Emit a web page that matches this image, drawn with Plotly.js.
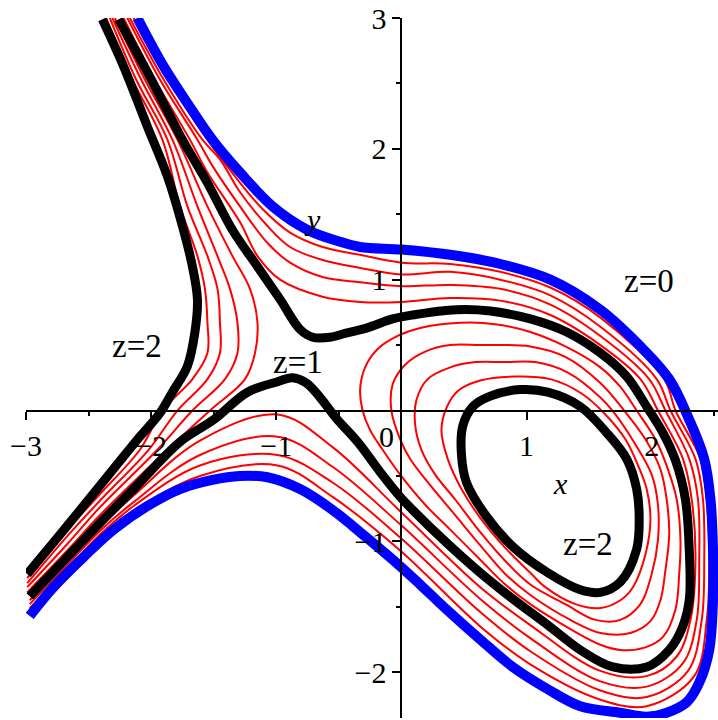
<!DOCTYPE html>
<html>
<head>
<meta charset="utf-8">
<script src="https://cdn.plot.ly/plotly-3.0.1.min.js"></script>
<style>
  html, body { margin: 0; padding: 0; background: #fff; }
  #chart { width: 718px; height: 720px; }
</style>
</head>
<body>
<div id="chart"></div>
<script>
// Level curves (data units)

// z = 0 (blue)
const blueX = [-2.11,-1.90,-1.69,-1.51,-1.29,-1.03,-0.75,-0.49,-0.33,0.00,0.39,0.79,1.19,1.59,1.90,2.14,2.30,2.42,2.47,2.49,2.49,2.46,2.38,2.28,2.12,1.96,1.75,1.43,1.17,0.89,0.63,0.36,0.15,-0.01,-0.28,-0.55,-0.81,-1.07,-1.29,-1.51,-1.77,-2.03,-2.30,-2.54,-2.78,-2.97];
const blueY = [3.00,2.63,2.32,2.07,1.82,1.56,1.38,1.29,1.25,1.23,1.19,1.12,1.00,0.77,0.50,0.24,-0.07,-0.37,-0.68,-1.06,-1.45,-1.83,-2.08,-2.23,-2.31,-2.34,-2.31,-2.26,-2.13,-1.96,-1.75,-1.52,-1.33,-1.19,-0.97,-0.76,-0.60,-0.51,-0.50,-0.53,-0.60,-0.73,-0.91,-1.12,-1.35,-1.57];

// z = 1 (black)
const oneX = [-2.26,-2.01,-1.75,-1.55,-1.35,-1.15,-0.97,-0.81,-0.71,-0.57,-0.45,-0.28,-0.07,0.09,0.44,0.71,1.03,1.32,1.59,1.80,1.96,2.09,2.19,2.27,2.30,2.30,2.24,2.14,1.96,1.69,1.43,1.17,0.89,0.63,0.36,0.09,-0.01,-0.17,-0.35,-0.52,-0.65,-0.76,-0.87,-0.99,-1.23,-1.50,-1.77,-2.14,-2.41,-2.67,-2.97];
const oneY = [2.99,2.55,2.07,1.74,1.38,1.10,0.85,0.62,0.56,0.56,0.59,0.63,0.70,0.73,0.77,0.76,0.70,0.60,0.44,0.26,0.03,-0.17,-0.38,-0.68,-1.06,-1.45,-1.67,-1.83,-1.96,-1.96,-1.83,-1.64,-1.44,-1.24,-1.01,-0.76,-0.66,-0.47,-0.24,-0.06,0.10,0.21,0.25,0.22,0.14,-0.07,-0.24,-0.60,-0.86,-1.12,-1.42];

// z = 2 (black): oval and left branch
const twoOvalX = [0.95,1.17,1.43,1.64,1.80,1.88,1.90,1.88,1.75,1.59,1.43,1.17,0.89,0.68,0.52,0.48,0.49,0.57,0.71,0.95];
const twoOvalY = [0.16,0.14,0.03,-0.17,-0.37,-0.60,-0.81,-1.06,-1.31,-1.39,-1.37,-1.24,-1.04,-0.81,-0.55,-0.34,-0.12,0.03,0.11,0.16];
const twoLeftX = [-2.39,-2.22,-2.03,-1.87,-1.75,-1.67,-1.63,-1.65,-1.71,-1.83,-1.93,-2.09,-2.27,-2.49,-2.73,-2.99];
const twoLeftY = [2.99,2.63,2.17,1.79,1.41,1.10,0.85,0.60,0.34,0.14,-0.02,-0.20,-0.41,-0.67,-0.95,-1.25];

// red levels between 0 and 1
const r02X = [-2.14,-1.86,-1.55,-1.33,-1.11,-0.89,-0.63,-0.33,0.00,0.39,0.79,1.19,1.59,2.10,2.19,2.39,2.44,2.46,2.44,2.34,1.96,1.59,1.03,0.63,-0.01,-0.55,-0.99,-1.61,-2.14,-2.41,-2.67,-2.97];
const r02Y = [3.00,2.53,2.07,1.79,1.54,1.36,1.25,1.19,1.13,1.12,1.06,0.94,0.71,0.24,0.00,-0.37,-0.68,-1.14,-1.60,-2.03,-2.26,-2.21,-1.94,-1.65,-1.07,-0.66,-0.42,-0.50,-0.77,-0.97,-1.23,-1.54];
const r04X = [-2.17,-1.90,-1.59,-1.45,-1.29,-1.07,-0.89,-0.63,-0.33,0.00,0.39,0.79,1.19,1.59,2.04,2.15,2.35,2.41,2.42,2.40,2.29,1.96,1.59,1.03,0.63,-0.01,-0.55,-0.99,-1.61,-2.14,-2.41,-2.67,-2.97];
const r04Y = [3.00,2.53,2.07,1.92,1.67,1.41,1.25,1.15,1.09,1.04,1.06,1.00,0.88,0.64,0.24,0.00,-0.37,-0.68,-1.14,-1.60,-1.99,-2.19,-2.14,-1.84,-1.54,-0.97,-0.55,-0.34,-0.42,-0.73,-0.95,-1.21,-1.51];
const r06X = [-2.19,-1.93,-1.63,-1.51,-1.29,-1.07,-0.89,-0.63,-0.33,0.00,0.39,0.79,1.19,1.59,1.98,2.11,2.30,2.37,2.38,2.36,2.25,1.96,1.59,1.03,0.63,-0.01,-0.55,-0.99,-1.61,-2.14,-2.41,-2.67,-2.97];
const r06Y = [3.00,2.53,2.07,1.87,1.56,1.28,1.13,1.02,0.98,0.95,0.96,0.93,0.81,0.57,0.24,0.00,-0.37,-0.68,-1.14,-1.60,-1.93,-2.11,-2.07,-1.74,-1.44,-0.87,-0.43,-0.20,-0.34,-0.70,-0.92,-1.18,-1.48];
const r08X = [-2.22,-1.97,-1.69,-1.55,-1.29,-1.15,-0.97,-0.63,-0.33,0.00,0.39,0.79,1.19,1.59,1.91,2.05,2.25,2.32,2.35,2.31,2.20,1.96,1.59,1.03,0.63,-0.01,-0.55,-0.99,-1.61,-2.14,-2.41,-2.67,-2.97];
const r08Y = [3.00,2.53,2.07,1.82,1.44,1.18,1.00,0.87,0.83,0.83,0.86,0.84,0.73,0.50,0.24,0.00,-0.37,-0.68,-1.14,-1.60,-1.88,-2.03,-1.99,-1.64,-1.35,-0.77,-0.28,-0.03,-0.23,-0.65,-0.89,-1.15,-1.45];

// red levels between 1 and 2: ovals
const r12OvalX = [0.15,0.47,0.75,1.03,1.31,1.59,1.75,1.88,2.03,2.13,2.20,2.23,2.22,2.19,2.09,1.95,1.75,1.59,1.35,1.03,0.83,0.63,0.39,0.19,-0.01,-0.15,-0.25,-0.31,-0.33,-0.29,-0.19,-0.03,0.15];
const r12OvalY = [0.63,0.67,0.66,0.60,0.49,0.33,0.18,0.00,-0.22,-0.45,-0.68,-0.99,-1.25,-1.52,-1.73,-1.81,-1.83,-1.79,-1.67,-1.48,-1.33,-1.14,-0.91,-0.72,-0.49,-0.30,-0.15,0.00,0.16,0.33,0.47,0.57,0.63];
const r14OvalX = [0.63,1.03,1.31,1.59,1.78,1.95,2.07,2.12,2.14,2.11,2.07,1.99,1.83,1.59,1.35,1.03,0.83,0.63,0.43,0.23,0.07,-0.01,-0.08,-0.07,0.03,0.19,0.39,0.63];
const r14OvalY = [0.50,0.49,0.41,0.21,0.00,-0.22,-0.45,-0.68,-0.95,-1.22,-1.45,-1.61,-1.70,-1.70,-1.60,-1.41,-1.25,-1.03,-0.80,-0.57,-0.37,-0.22,0.00,0.20,0.35,0.45,0.50,0.50];
const r16OvalX = [0.83,1.07,1.33,1.59,1.71,1.87,2.00,2.05,2.05,2.00,1.91,1.75,1.55,1.31,1.03,0.83,0.63,0.43,0.27,0.16,0.11,0.12,0.21,0.39,0.59,0.83];
const r16OvalY = [0.37,0.37,0.29,0.10,-0.03,-0.26,-0.49,-0.72,-0.99,-1.25,-1.48,-1.60,-1.60,-1.48,-1.33,-1.15,-0.93,-0.68,-0.49,-0.30,-0.11,0.08,0.24,0.33,0.37,0.37];
const r18OvalX = [0.91,1.19,1.44,1.63,1.79,1.90,1.96,1.99,1.95,1.85,1.75,1.59,1.39,1.15,1.03,0.83,0.63,0.48,0.37,0.32,0.36,0.45,0.63,0.91];
const r18OvalY = [0.26,0.24,0.13,-0.03,-0.22,-0.44,-0.60,-0.83,-1.10,-1.35,-1.45,-1.51,-1.48,-1.35,-1.24,-1.05,-0.82,-0.60,-0.37,-0.15,0.02,0.15,0.23,0.26];

// red levels between 1 and 2: left branches
const r12LeftX = [-2.29,-2.05,-1.79,-1.55,-1.35,-1.21,-1.15,-1.17,-1.25,-1.53,-1.87,-2.41,-2.67,-2.99];
const r12LeftY = [3.00,2.53,2.07,1.56,1.18,0.93,0.67,0.44,0.24,0.00,-0.30,-0.80,-1.07,-1.39];
const r14LeftX = [-2.31,-2.08,-1.83,-1.63,-1.47,-1.37,-1.31,-1.31,-1.41,-1.67,-1.95,-2.41,-2.67,-2.99];
const r14LeftY = [3.00,2.53,2.07,1.56,1.18,0.93,0.67,0.44,0.24,0.00,-0.30,-0.74,-1.02,-1.35];
const r16LeftX = [-2.33,-2.12,-1.87,-1.71,-1.55,-1.47,-1.45,-1.45,-1.55,-1.79,-2.02,-2.41,-2.67,-2.99];
const r16LeftY = [3.00,2.53,2.07,1.56,1.18,0.93,0.67,0.44,0.24,0.00,-0.30,-0.69,-0.96,-1.32];
const r18LeftX = [-2.36,-2.15,-1.91,-1.77,-1.63,-1.57,-1.55,-1.55,-1.67,-1.91,-2.09,-2.41,-2.67,-2.99];
const r18LeftY = [3.00,2.53,2.07,1.56,1.18,0.93,0.67,0.44,0.24,0.00,-0.30,-0.64,-0.91,-1.28];

const xTicks = [-3, -2, -1, 1, 2];
const yTicks = [-2, -1, 1, 2, 3];

function curve(x, y, color, width) {
    return {
        x: x, y: y,
        type: 'scatter',
        mode: 'lines',
        line: { color: color, width: width, shape: 'spline', smoothing: 1 },
        hoverinfo: 'skip'
    };
}

const reds = [
    [r02X, r02Y], [r04X, r04Y], [r06X, r06Y], [r08X, r08Y],
    [r12OvalX, r12OvalY], [r14OvalX, r14OvalY], [r16OvalX, r16OvalY], [r18OvalX, r18OvalY],
    [r12LeftX, r12LeftY], [r14LeftX, r14LeftY], [r16LeftX, r16LeftY], [r18LeftX, r18LeftY]
];

const data = reds.map(c => curve(c[0], c[1], '#ff0000', 2));
data.push(curve(oneX, oneY, '#000000', 9));
data.push(curve(twoOvalX, twoOvalY, '#000000', 9));
data.push(curve(twoLeftX, twoLeftY, '#000000', 9));
data.push(curve(blueX, blueY, '#0000ff', 10));

const serif = 'Liberation Serif, Times New Roman, serif';

const axisStyle = {
    showline: true, linecolor: '#000', linewidth: 2,
    ticks: 'outside', ticklen: 8, tickwidth: 2, tickcolor: '#000',
    showgrid: false, zeroline: false,
    tickfont: { family: serif, size: 30, color: '#000' },
    anchor: 'free'
};

const label = (x, y, text, size) => ({
    x: x, y: y, text: text, showarrow: false,
    font: { family: serif, size: size, color: '#000' }
});

const layout = {
    width: 718, height: 720,
    margin: { l: 26, r: 0, t: 18, b: 2 },
    paper_bgcolor: '#fff', plot_bgcolor: '#fff',
    showlegend: false,
    font: { family: serif, color: '#000' },
    xaxis: Object.assign({}, axisStyle, {
        range: [-3, 2.53],
        position: 2.35 / 5.35,
        tickvals: xTicks,
        minor: { tickvals: [-2.5, -1.5, -0.5, 0.5, 1.5, 2.5], ticks: 'outside', ticklen: 4, tickwidth: 2, tickcolor: '#000' }
    }),
    yaxis: Object.assign({}, axisStyle, {
        range: [-2.35, 3],
        position: 3 / 5.53,
        tickvals: yTicks,
        minor: { tickvals: [-1.5, -0.5, 0.5, 1.5, 2.5], ticks: 'outside', ticklen: 4, tickwidth: 2, tickcolor: '#000' }
    }),
    annotations: [
        label(-0.12, -0.20, '0', 30),
        label(1.98, 0.99, 'z=0', 33),
        label(-2.11, 0.49, 'z=2', 33),
        label(-0.83, 0.37, 'z=1', 33),
        label(1.49, -1.02, 'z=2', 33),
        label(-0.71, 1.46, '<i>y</i>', 30),
        label(1.27, -0.56, '<i>x</i>', 30)
    ]
};

Plotly.newPlot('chart', data, layout, { displayModeBar: false, staticPlot: true });
</script>
</body>
</html>
